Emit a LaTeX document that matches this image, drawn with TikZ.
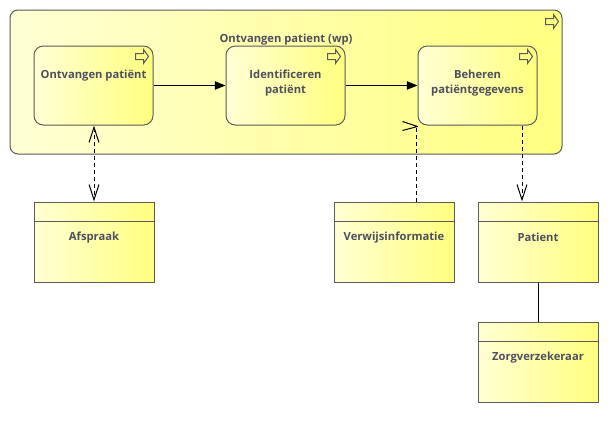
\documentclass[tikz,border=0pt]{standalone}
\usepackage{fontspec}
\setmainfont{Open Sans}
\usetikzlibrary{arrows.meta,calc}
\definecolor{boxline}{RGB}{90,90,90}
\definecolor{txt}{RGB}{78,78,94}
\definecolor{yelA}{RGB}{255,255,212}
\definecolor{yelB}{RGB}{255,255,128}
\tikzset{
  procicon/.pic={\draw[icon] (-13,4) -- (-5,4) -- (-5,0) -- (0,7) -- (-5,14) -- (-5,10) -- (-13,10) -- cycle;}
}
\begin{document}
\begin{tikzpicture}[x=0.75pt,y=-0.75pt,
  every node/.style={font=\fontsize{8.4}{11.25}\selectfont\bfseries, text=txt},
  yelfill/.style={left color=yelA, right color=yelB},
  container/.style={draw=boxline, line width=0.75pt, yelfill, rounded corners=6pt,
    minimum width=414pt, minimum height=108pt, inner sep=0},
  procbox/.style={draw=boxline, line width=0.75pt, yelfill, rounded corners=7pt,
    minimum width=89.25pt, minimum height=59.25pt, inner sep=0},
  databox/.style={draw=boxline, line width=0.75pt, yelfill,
    minimum width=90pt, minimum height=60pt, inner sep=0},
  lbl/.style={align=center, inner sep=0},
  icon/.style={draw=boxline, line width=0.75pt, fill=none, line join=miter},
  conn/.style={draw=black, line width=0.75pt},
  flow/.style={conn, -{Triangle[length=8pt,width=6.3pt]}},
  access/.style={conn, dash pattern=on 3pt off 2.25pt},
  >={Straight Barb[length=11.5pt,width=7.4pt]},
]
\useasboundingbox (0,0) rectangle (611,433);

% grouping process
\node[container] (wp) at (286,82) {};
\pic at ($(wp.north east)+(-4,5)$) {procicon};
\node[lbl] (wpl) at (286,40) {Ontvangen patient (wp)};

% sub-processes
\node[procbox] (p1) at (93.5,85.5) {};
\node[procbox] (p2) at (285.5,85.5) {};
\node[procbox] (p3) at (477.5,85.5) {};
\foreach \p in {p1,p2,p3} {\pic at ($(\p.north east)+(-5,4)$) {procicon};}
\node[lbl] (p1l) at ($(p1.north)+(0,30)$) {Ontvangen patiënt};
\node[lbl] (p2l) at ($(p2.north)+(0,37.5)$) {Identificeren\\patiënt};
\node[lbl] (p3l) at ($(p3.north)+(0,37.5)$) {Beheren\\patiëntgegevens};

% business objects
\node[databox] (afs) at (94,242) {};
\node[databox] (verw) at (394,242) {};
\node[databox] (pat) at (538,242) {};
\node[databox] (zorg) at (538,362) {};
\foreach \d in {afs,verw,pat,zorg} {
  \draw[boxline, line width=0.75pt] ($(\d.north west)+(0,20)$) -- ($(\d.north east)+(0,20)$);
}
\node[lbl] (afsl) at ($(afs.north)+(0,36)$) {Afspraak};
\node[lbl] (verwl) at ($(verw.north)+(0,36)$) {Verwijsinformatie};
\node[lbl] (patl) at ($(pat.north)+(0,36)$) {Patient};
\node[lbl] (zorgl) at ($(zorg.north)+(0,36)$) {Zorgverzekeraar};

% triggering flow
\draw[flow] (p1.east) -- (p2.west);
\draw[flow] (p2.east) -- (p3.west);

% access relations
\coordinate (acol) at (94,0);
\coordinate (vcol) at (416,0);
\coordinate (pcol) at (522,0);
\draw[access, <->] (p1.south -| acol) -- (afs.north -| acol);
\draw[access] (verw.north -| vcol) -- ($(p3.south -| vcol)+(0,1)$);
\draw[conn, line join=round] ($(p3.south west)+(-15,-4)$) -- ($(p3.south west)+(0,1)$) -- ($(p3.south west)+(-15,5)$);
\draw[access, ->] (p3.south -| pcol) -- (pat.north -| pcol);

% association
\draw[conn] (pat.south) -- (zorg.north);
\end{tikzpicture}
\end{document}
